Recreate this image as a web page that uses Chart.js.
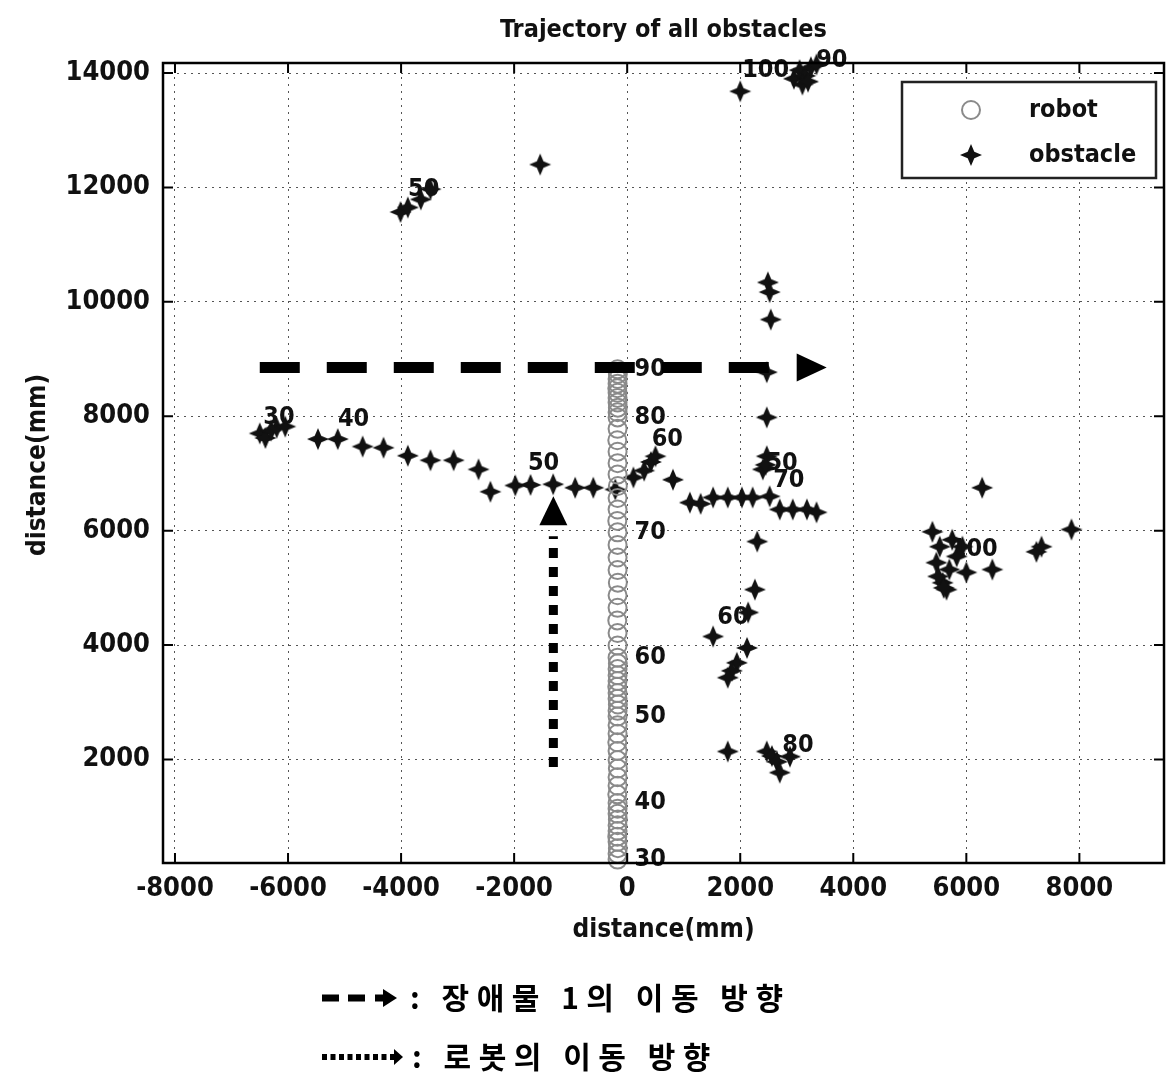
<!DOCTYPE html>
<html>
<head>
<meta charset="utf-8">
<script src="https://cdn.jsdelivr.net/npm/chart.js@4.4.1/dist/chart.umd.min.js"></script>
<style>
  html, body { margin: 0; padding: 0; background: #fff; }
  #wrap { width: 1176px; height: 1078px; position: relative; }
</style>
</head>
<body>
<div id="wrap"><canvas id="chartTraj"></canvas></div>
<script>
// axis ranges and tick values (mm)
const xRange = [-8212, 9497];
const yRange = [190, 14175];
const xTicks = [-8000, -6000, -4000, -2000, 0, 2000, 4000, 6000, 8000];
const yTicks = [2000, 4000, 6000, 8000, 10000, 12000, 14000];

// robot path, frames 30..90
const robotFirstFrame = 30;
const robotX = [-170, -170, -165, -170, -175, -170, -170, -165, -170, -170, -170,
                -175, -170, -170, -165, -170, -170, -175, -170, -170, -170,
                -170, -165, -170, -170, -175, -170, -170, -170, -165, -170,
                -170, -170, -175, -170, -170, -165, -170, -170, -170, -170,
                -175, -170, -170, -165, -170, -170, -170, -175, -170, -170,
                -170, -165, -170, -170, -170, -175, -170, -170, -165, -170];
const robotY = [250, 350, 450, 560, 650, 750, 850, 950, 1050, 1140, 1240,
                1390, 1540, 1690, 1840, 1990, 2150, 2300, 2450, 2600, 2750,
                2850, 2960, 3060, 3160, 3270, 3370, 3470, 3580, 3680, 3780,
                3990, 4210, 4430, 4650, 4870, 5090, 5310, 5530, 5750, 5970,
                6170, 6370, 6570, 6780, 6980, 7180, 7380, 7580, 7780, 7980,
                8070, 8150, 8240, 8320, 8410, 8490, 8570, 8650, 8740, 8820];
const robotTagFrames = [30, 40, 50, 60, 70, 80, 90];

// all detected obstacle positions
const obstacleX = [
  -6500, -6400, -6300, -6200, -6050, -5470, -5120, -4680, -4310, -3880, -3480, -3070,
  -2630, -2420, -1980, -1710, -1310, -920, -600, -210, 110, 300, 420, 500, 810,
  1110, 1300, 1520, 1780, 2030, 2220, 2520, 2700, 2930, 3180, 3350,
  2490, 2520, 2540, 2470, 2470, 2470, 2400, 2450, 2300, 2260, 2140, 1520, 2120,
  1940, 1850, 1780, 1780, 2470, 2560, 2650, 2700, 2880,
  2000, 2950, 3050, 3150, 3250, 3100, 3350, 3200,
  -4010, -3880, -3650, -3480, -1540,
  6280, 5400, 5470, 5580, 5700, 5830, 5930, 5530, 5650, 6000, 5750, 5500, 5600,
  6460, 7240, 7330, 7860
];
const obstacleY = [
  7700, 7620, 7750, 7800, 7820, 7600, 7600, 7470, 7450, 7310, 7230, 7230,
  7070, 6680, 6790, 6800, 6810, 6750, 6750, 6720, 6930, 7050, 7200, 7300, 6890,
  6490, 6470, 6580, 6580, 6580, 6580, 6600, 6370, 6370, 6370, 6320,
  10340, 10170, 9690, 8770, 7980, 7300, 7070, 7150, 5810, 4970, 4570, 4150, 3950,
  3690, 3550, 3430, 2140, 2140, 2060, 1960, 1770, 2050,
  13680, 13900, 14050, 13950, 14100, 13800, 14150, 13850,
  11570, 11650, 11790, 11970, 12400,
  6750, 5980, 5440, 5090, 5320, 5550, 5720, 5720, 4970, 5270, 5840, 5200, 5000,
  5320, 5630, 5720, 6020
];

// frame numbers written beside obstacle tracks
const tagText = ['30', '40', '50', '60', '50', '70', '60', '80', '100', '90', '50', '100'];
const tagX = [-6160, -4840, -1480, 710, 2740, 2860, 1870, 3020, 2450, 3620, -3600, 6140];
const tagY = [7980, 7940, 7170, 7590, 7170, 6880, 4480, 2240, 14050, 14210, 11970, 5670];

// direction arrows drawn on the figure (mm)
const obstacleArrowX = [-6500, 3530];
const obstacleArrowY = 8850;
const robotArrowX = -1306;
const robotArrowY = [1870, 6600];

const narrow = "'Liberation Sans Narrow', 'DejaVu Sans Condensed', 'Liberation Sans', sans-serif";
const ink = '#111';

function makeStar(r) {
  const c = document.createElement('canvas');
  c.width = c.height = 2 * r + 2;
  const g = c.getContext('2d');
  const m = r + 1, k = r * 0.3;
  g.fillStyle = ink;
  g.beginPath();
  g.moveTo(m, m - r); g.lineTo(m + k, m - k); g.lineTo(m + r, m);
  g.lineTo(m + k, m + k); g.lineTo(m, m + r); g.lineTo(m - k, m + k);
  g.lineTo(m - r, m); g.lineTo(m - k, m - k);
  g.closePath(); g.fill();
  return c;
}
const starImg = makeStar(11);

function drawRing(ctx, x, y) {
  ctx.beginPath();
  ctx.arc(x, y, 9, 0, Math.PI * 2);
  ctx.strokeStyle = '#8a8a8a';
  ctx.lineWidth = 2;
  ctx.stroke();
}

const decor = {
  id: 'decor',
  afterDatasetsDraw(chart) {
    const { ctx, chartArea: a, scales: { x, y } } = chart;
    ctx.save();

    // frame numbers beside robot
    ctx.font = 'bold 25px ' + narrow;
    ctx.fillStyle = ink;
    ctx.textAlign = 'left';
    ctx.textBaseline = 'middle';
    robotTagFrames.forEach(f => {
      const i = f - robotFirstFrame;
      ctx.fillText(String(f), x.getPixelForValue(robotX[i]) + 17, y.getPixelForValue(robotY[i]));
    });
    // frame numbers beside obstacles
    ctx.textAlign = 'center';
    tagText.forEach((t, i) => {
      ctx.fillText(t, x.getPixelForValue(tagX[i]), y.getPixelForValue(tagY[i]));
    });

    // dashed arrow: obstacle 1 direction
    const ay = y.getPixelForValue(obstacleArrowY);
    const ax0 = x.getPixelForValue(obstacleArrowX[0]);
    const tip = x.getPixelForValue(obstacleArrowX[1]);
    ctx.strokeStyle = '#000';
    ctx.fillStyle = '#000';
    ctx.lineWidth = 11;
    ctx.lineCap = 'butt';
    ctx.setLineDash([40, 27]);
    ctx.beginPath();
    ctx.moveTo(ax0, ay);
    ctx.lineTo(tip - 50, ay);
    ctx.stroke();
    ctx.setLineDash([]);
    ctx.beginPath();
    ctx.moveTo(tip, ay);
    ctx.lineTo(tip - 30, ay - 14);
    ctx.lineTo(tip - 30, ay + 14);
    ctx.closePath();
    ctx.fill();

    // dotted arrow: robot direction
    const rx = x.getPixelForValue(robotArrowX);
    const ry0 = y.getPixelForValue(robotArrowY[0]);
    const rtip = y.getPixelForValue(robotArrowY[1]);
    ctx.lineWidth = 9;
    ctx.setLineDash([10, 9]);
    ctx.beginPath();
    ctx.moveTo(rx, ry0);
    ctx.lineTo(rx, rtip + 40);
    ctx.stroke();
    ctx.setLineDash([]);
    ctx.beginPath();
    ctx.moveTo(rx, rtip);
    ctx.lineTo(rx - 14, rtip + 29);
    ctx.lineTo(rx + 14, rtip + 29);
    ctx.closePath();
    ctx.fill();

    // axes box with inward ticks
    ctx.strokeStyle = '#000';
    ctx.lineWidth = 2.5;
    ctx.strokeRect(a.left, a.top, a.right - a.left, a.bottom - a.top);
    ctx.lineWidth = 2;
    ctx.beginPath();
    xTicks.forEach(v => {
      const px = x.getPixelForValue(v);
      ctx.moveTo(px, a.bottom); ctx.lineTo(px, a.bottom - 10);
      ctx.moveTo(px, a.top); ctx.lineTo(px, a.top + 10);
    });
    yTicks.forEach(v => {
      const py = y.getPixelForValue(v);
      ctx.moveTo(a.left, py); ctx.lineTo(a.left + 10, py);
      ctx.moveTo(a.right, py); ctx.lineTo(a.right - 10, py);
    });
    ctx.stroke();

    // legend box
    const lw = 254, lh = 96;
    const lx = a.right - 8 - lw, ly = a.top + 19;
    ctx.fillStyle = '#fff';
    ctx.fillRect(lx, ly, lw, lh);
    ctx.strokeStyle = '#222';
    ctx.lineWidth = 2.5;
    ctx.strokeRect(lx, ly, lw, lh);
    drawRing(ctx, lx + 69, ly + 28);
    ctx.drawImage(starImg, lx + 69 - starImg.width / 2, ly + 73 - starImg.height / 2);
    ctx.fillStyle = ink;
    ctx.font = 'bold 25px ' + narrow;
    ctx.textAlign = 'left';
    ctx.textBaseline = 'middle';
    ctx.fillText('robot', lx + 127, ly + 28);
    ctx.fillText('obstacle', lx + 127, ly + 73);

    ctx.restore();
  },
  afterDraw(chart) {
    const { ctx, chartArea: a } = chart;
    const cx = (a.left + a.right) / 2;
    ctx.save();
    ctx.fillStyle = ink;
    ctx.textAlign = 'center';
    ctx.textBaseline = 'middle';
    ctx.font = 'bold 25px ' + narrow;
    ctx.fillText('Trajectory of all obstacles', cx, 30);
    ctx.font = 'bold 26px ' + narrow;
    ctx.fillText('distance(mm)', cx, 930);
    ctx.save();
    ctx.translate(38, 465);
    ctx.rotate(-Math.PI / 2);
    ctx.fillText('distance(mm)', 0, 0);
    ctx.restore();

    // figure caption legend
    ctx.fillStyle = '#000';
    ctx.strokeStyle = '#000';
    // line 1: dashed arrow
    let yy = 998;
    ctx.fillRect(322, yy - 3.5, 17, 7);
    ctx.fillRect(348, yy - 3.5, 17, 7);
    ctx.fillRect(375, yy - 3.5, 10, 7);
    ctx.beginPath();
    ctx.moveTo(397, yy); ctx.lineTo(383, yy - 9); ctx.lineTo(383, yy + 9); ctx.closePath(); ctx.fill();
    // line 2: dotted arrow
    let y2 = 1057;
    for (let i = 0; i < 9; i++) ctx.fillRect(322 + i * 8.5, y2 - 3, 5, 6);
    ctx.beginPath();
    ctx.moveTo(403, y2); ctx.lineTo(394, y2 - 8); ctx.lineTo(394, y2 + 8); ctx.closePath(); ctx.fill();

    ctx.textAlign = 'left';
    ctx.font = 'bold 30px "Noto Sans CJK KR"';
    ctx.letterSpacing = '7.5px';
    ctx.fillText(': 장애물 1의 이동 방향', 410, yy);
    ctx.fillText(': 로봇의 이동 방향', 412, y2);
    ctx.restore();
  }
};

const ctxTraj = document.getElementById('chartTraj').getContext('2d');

const gridStyle = { color: '#555', lineWidth: 1, drawTicks: false };
const tickFont = { family: narrow, size: 27, weight: 'bold' };

new Chart(ctxTraj, {
  type: 'scatter',
  data: {
    datasets: [
      {
        label: 'robot',
        data: robotX.map((v, i) => ({ x: v, y: robotY[i] })),
        pointStyle: 'circle',
        pointRadius: 9,
        pointBorderWidth: 2,
        borderColor: '#8a8a8a',
        backgroundColor: 'rgba(0,0,0,0)',
        clip: false
      },
      {
        label: 'obstacle',
        data: obstacleX.map((v, i) => ({ x: v, y: obstacleY[i] })),
        pointStyle: starImg,
        pointRadius: 11,
        clip: false
      }
    ]
  },
  options: {
    responsive: true,
    maintainAspectRatio: false,
    animation: false,
    layout: { padding: { top: 63, right: 11, bottom: 0, left: 0 } },
    plugins: {
      legend: { display: false },
      tooltip: { enabled: false },
      title: { display: false }
    },
    scales: {
      x: {
        type: 'linear',
        min: xRange[0],
        max: xRange[1],
        afterBuildTicks: s => { s.ticks = xTicks.map(v => ({ value: v })); },
        afterFit: s => { s.height = 215; },
        grid: gridStyle,
        border: { display: false, dash: [2, 5] },
        ticks: { font: tickFont, color: ink, padding: 10, maxRotation: 0, callback: v => String(v) }
      },
      y: {
        type: 'linear',
        min: yRange[0],
        max: yRange[1],
        afterBuildTicks: s => { s.ticks = yTicks.map(v => ({ value: v })); },
        afterFit: s => { s.width = 163; },
        grid: gridStyle,
        border: { display: false, dash: [2, 5] },
        ticks: { font: tickFont, color: ink, padding: 13, callback: v => String(v) }
      }
    }
  },
  plugins: [decor]
});
</script>
</body>
</html>
